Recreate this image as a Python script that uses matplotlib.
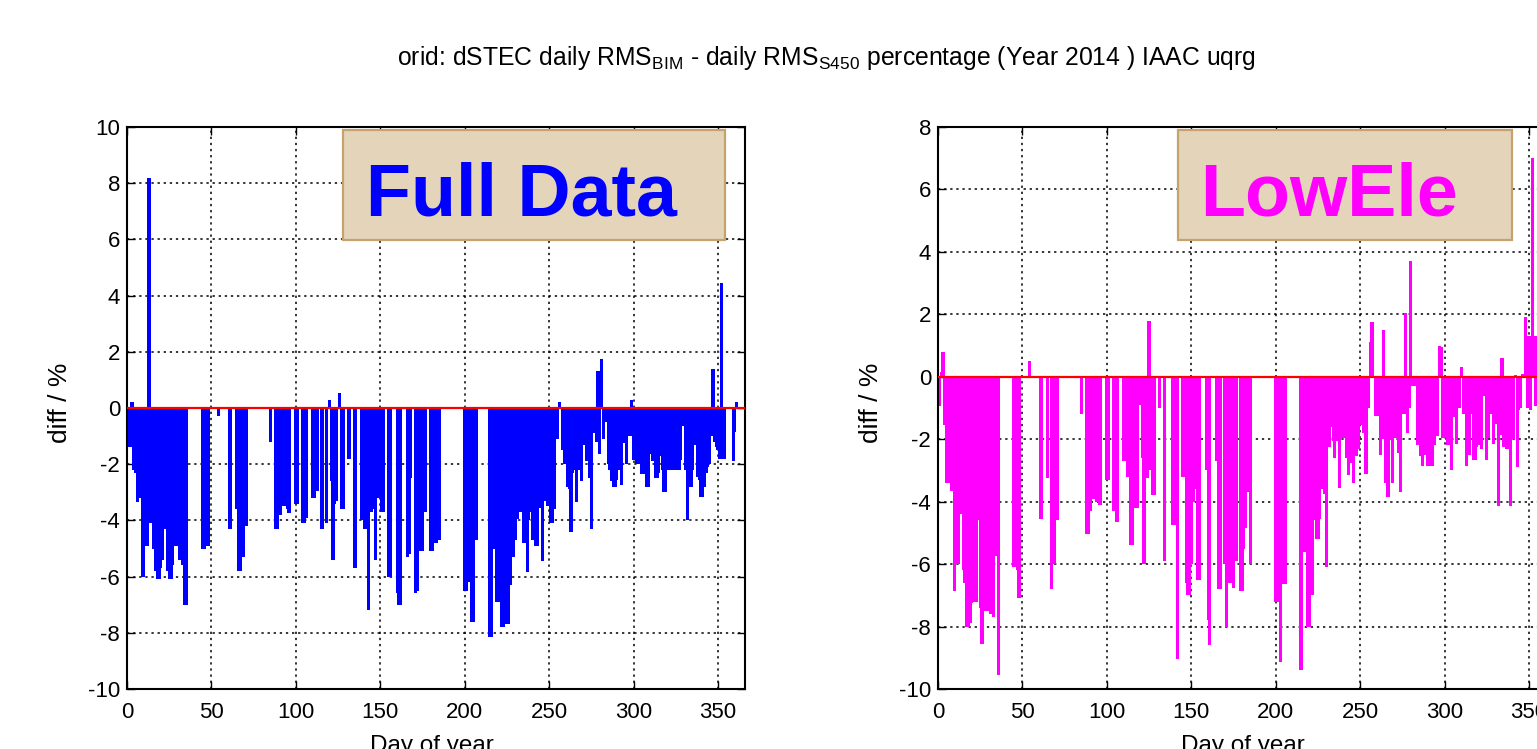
import numpy as np
import matplotlib
matplotlib.use('Agg')
import matplotlib.pyplot as plt
from matplotlib.patches import Rectangle

plt.rcParams['font.family'] = ['Liberation Sans', 'DejaVu Sans']
plt.rcParams['mathtext.fontset'] = 'custom'
plt.rcParams['mathtext.rm'] = 'Liberation Sans'
plt.rcParams['mathtext.it'] = 'Liberation Sans:italic'
plt.rcParams['axes.unicode_minus'] = False

# ---- Full Data: day of year / diff in % ----
full_days = [1, 2, 3, 4, 5, 6, 7, 8, 9, 10, 11, 12, 13, 14, 15, 16, 17, 18, 19, 20,
             21, 22, 23, 24, 25, 26, 27, 28, 29, 30, 31, 32, 33, 34, 35,
             45, 46, 47, 48, 54, 61, 65, 66, 67, 69, 71, 85,
             88, 89, 90, 91, 92, 93, 94, 95, 96, 100, 101, 104, 105, 106,
             110, 111, 112, 113, 115, 116, 118, 120, 121, 122, 123, 124, 126, 127, 128,
             131, 132, 135, 139, 140, 141, 142, 143, 144, 145, 146, 147, 148, 149, 150,
             151, 152, 155, 156, 160, 161, 162, 166, 167, 168, 171, 172, 174, 175, 176,
             177, 180, 181, 182, 183, 184, 185,
             200, 201, 202, 203, 204, 205, 206, 207,
             215, 216, 217, 218, 219, 220, 221, 222, 223, 224, 225, 226, 227, 228, 229,
             230, 231, 232, 233, 234, 235, 236, 237, 238, 239, 240, 241, 242, 243, 244,
             245, 246, 247, 248, 249, 250, 251, 252, 253, 254, 255, 256, 258, 259, 260,
             261, 262, 263, 264, 265, 266, 267, 268, 269, 270, 271, 272, 273, 274, 275,
             276, 277, 278, 279, 280, 281, 282, 283, 284, 285, 286, 287, 288, 289, 290,
             291, 292, 293, 294, 295, 296, 297, 298, 299, 300, 301, 302, 303, 304, 305,
             306, 307, 308, 309, 310, 311, 312, 313, 314, 315, 316, 317, 318, 319, 320,
             321, 322, 323, 324, 325, 326, 327, 328, 329, 330, 331, 332, 333, 334, 335,
             336, 337, 338, 339, 340, 341, 342, 343, 344, 345, 346, 347, 348, 349, 350,
             351, 352, 353, 354, 355, 359, 360, 361]
full_vals = [-1.4, -1.4, 0.2, -2.2, -2.3, -3.35, -2.6, -3.2, -6.0, -6.0, -4.9, -4.9, 8.2, -4.1, -4.1, -5.0, -5.8, -6.1, -6.1, -5.7,
             -5.4, -4.3, -4.3, -5.8, -6.1, -6.1, -5.6, -4.7, -4.9, -4.9, -5.4, -4.7, -5.6, -7.0, -7.0,
             -5.0, -5.0, -4.9, -4.9, -0.3, -4.3, -3.6, -5.8, -5.8, -5.3, -4.2, -1.2,
             -4.3, -4.3, -3.8, -3.8, -3.5, -3.5, -3.5, -3.6, -3.75, -3.4, -3.4, -4.1, -4.1, -3.9,
             -3.2, -3.2, -2.95, -2.95, -4.3, -4.3, -4.1, 0.3, -2.6, -5.4, -3.4, -3.3, 0.55, -3.6, -3.6,
             -1.8, -1.8, -5.7, -4.0, -4.0, -4.3, -4.3, -7.2, -3.7, -3.7, -3.6, -5.4, -3.2, -3.2, -3.2,
             -3.7, -3.7, -6.0, -6.0, -6.6, -7.0, -7.0, -5.3, -5.2, -2.5, -6.6, -6.5, -5.1, -5.1, -3.7,
             -3.7, -5.1, -5.1, -4.8, -4.8, -4.7, -4.7,
             -6.5, -6.5, -6.2, -6.2, -7.6, -7.6, -4.7, -4.7,
             -8.15, -8.15, -5.0, -5.0, -6.9, -6.9, -5.8, -7.8, -7.8, -7.7, -7.7, -7.7, -6.3, -5.3, -5.3,
             -4.7, -3.95, -3.7, -3.7, -3.7, -4.8, -4.8, -5.85, -4.0, -3.7, -4.7, -4.7, -4.9, -4.9, -3.55,
             -3.55, -5.45, -3.3, -3.0, -3.5, -3.5, -4.1, -4.1, -3.6, -1.1, -1.1, 0.2, -1.5, -2.0, -1.8,
             -2.8, -2.9, -4.4, -2.3, -2.2, -3.35, -2.2, -2.2, -2.6, -1.3, -1.3, -1.9, -1.9, -2.5, -4.3,
             -0.9, -0.9, -1.2, 1.3, -1.65, 1.75, -1.1, -0.2, -0.5, -2.0, -2.2, -2.6, -2.8, -2.8, -2.55,
             -2.2, -2.2, -2.75, -1.25, -1.25, -2.0, -1.0, -1.0, 0.3, -1.85, -1.85, -2.0, -2.0, -0.45, -2.35,
             -2.35, -1.9, -2.8, -2.8, -1.65, -1.9, -1.9, -2.5, -2.5, -2.3, -1.7, -2.2, -3.0, -3.0, -2.2,
             -2.2, -2.0, -2.2, -2.2, -2.0, -2.2, -2.2, -1.85, -0.65, -0.65, -2.2, -4.0, -2.8, -2.8, -2.2,
             -1.3, -1.3, -2.45, -2.55, -3.15, -3.15, -2.8, -2.3, -2.1, -2.0, -1.0, 1.4, -1.2, -1.4, -1.5,
             -1.8, 4.45, -1.8, -1.8, 0.05, -1.9, -0.85, 0.2]

# ---- LowEle: day of year / diff in % ----
low_days = [1, 2, 3, 4, 5, 6, 7, 8, 9, 10, 11, 12, 13, 14, 15, 16, 17, 18, 19, 20,
            21, 22, 23, 24, 25, 26, 27, 28, 29, 30, 31, 32, 33, 34, 35, 36,
            45, 46, 47, 48, 54, 61, 65, 67, 68, 69, 70, 71, 85,
            88, 89, 90, 91, 92, 93, 94, 95, 96, 100, 101, 104, 105, 106,
            110, 111, 112, 114, 115, 116, 117, 118, 120, 121, 122, 123, 124, 125, 126, 127, 128,
            131, 134, 139, 140, 141, 142, 145, 146, 147, 148, 149, 150, 151, 152, 153, 154, 155,
            159, 160, 161, 165, 166, 167, 170, 171, 172, 173, 175, 176, 177,
            179, 180, 181, 182, 183, 184, 185,
            200, 201, 202, 203, 204, 205, 206,
            215, 216, 217, 218, 219, 220, 221, 222, 223, 224, 225, 226, 227, 228, 229,
            230, 231, 232, 233, 234, 235, 236, 237, 238, 239, 240, 241, 242, 243, 244,
            245, 246, 247, 248, 249, 250, 251, 252, 253, 254, 255, 256, 257, 258, 259,
            260, 261, 262, 263, 264, 265, 266, 267, 268, 269, 270, 271, 272, 273, 274,
            275, 276, 277, 278, 279, 280, 281, 282, 283, 284, 285, 286, 287, 288, 289,
            290, 291, 292, 293, 294, 295, 296, 297, 298, 299, 300, 301, 302, 303, 304,
            305, 306, 307, 308, 309, 310, 311, 312, 313, 314, 315, 316, 317, 318, 319,
            320, 321, 322, 323, 324, 325, 326, 327, 328, 329, 330, 331, 332, 333, 334,
            335, 336, 337, 338, 339, 340, 341, 342, 343, 344, 345, 346, 347, 348, 349,
            350, 351, 352, 353, 354, 355]
low_vals = [-0.95, 0.15, 0.8, -1.55, -3.4, -3.4, -2.1, -3.65, -3.65, -6.85, -6.0, -6.0, -4.4, -4.4, -6.2, -6.6, -8.0, -8.0, -7.9, -7.25,
            -7.2, -7.2, -7.2, -4.6, -7.4, -8.55, -7.5, -5.85, -7.5, -6.75, -7.6, -5.7, -7.7, -5.75, -5.75, -9.55,
            -6.1, -6.1, -6.2, -7.1, 0.5, -4.55, -3.25, -6.8, -6.0, -6.0, -4.6, -4.6, -1.2,
            -5.05, -5.05, -4.3, -3.6, -3.9, -3.9, -4.0, -4.0, -4.1, -3.3, -3.3, -4.3, -4.3, -4.65,
            -2.7, -2.7, -3.2, -5.4, -5.4, -4.2, -4.2, -4.2, -0.9, -2.6, -6.0, -3.25, -3.25, 1.8, -3.0, -3.8, -3.8,
            -1.0, -5.9, -4.75, -4.75, -4.75, -9.05, -3.2, -3.2, -6.6, -7.0, -7.0, -6.0, -4.0, -3.6, -3.6, -6.5, -6.5,
            -3.0, -7.8, -8.6, -2.7, -6.8, -6.8, -6.0, -8.0, -6.6, -6.6, -6.75, -5.9, -5.9,
            -6.85, -6.85, -5.5, -4.85, -3.7, -3.7, -6.0,
            -7.2, -7.2, -6.65, -9.15, -6.65, -6.65, -6.65,
            -9.4, -5.6, -5.6, -4.0, -8.0, -8.0, -7.0, -7.0, -4.6, -5.2, -5.2, -4.55, -3.6, -3.6, -3.75,
            -6.1, -2.25, -2.25, -1.6, -2.05, -2.6, -2.05, -2.05, -3.55, -1.95, -1.95, -0.55, -2.6, -3.15, -2.75,
            -2.75, -3.4, -2.55, -2.55, -2.3, -1.55, -1.55, -1.8, -3.1, -3.1, -1.0, 1.1, 1.75, -0.05, -1.25,
            -1.25, -0.6, -2.5, -2.0, 1.5, -3.4, -3.85, -3.85, -2.0, -3.4, -1.55, -1.95, -0.85, -2.45, -3.7,
            -0.85, -1.2, 2.05, -1.8, -1.0, 3.7, -0.3, -0.3, -0.25, -2.2, -2.2, -2.55, -2.85, -2.15, -2.5,
            -2.85, -2.1, -2.85, -2.85, -2.2, -0.75, -1.9, 1.0, 0.95, -1.95, -1.95, -1.9, -2.2, -2.2, -3.0,
            -1.3, -1.3, -2.15, -1.0, -1.0, 0.3, -1.2, -1.2, -2.85, -2.5, -2.5, -1.2, -2.65, -2.65, -2.25,
            -2.2, -2.2, -2.3, -0.6, -0.6, -2.65, -1.95, -1.2, -1.2, -2.15, -1.5, -1.5, -4.15, -1.85, 0.6,
            -2.25, -2.25, -2.3, -2.3, -4.15, -2.0, -2.0, 0.05, -2.9, -1.05, -1.0, 0.1, 0.1, 1.9, -1.0,
            1.3, -1.05, 7.0, 1.3, -0.95, 1.3]

title = ('orid: dSTEC daily RMS$_{\\mathrm{BIM}}$ - daily RMS$_{\\mathrm{S450}}$ '
         'percentage (Year 2014 ) IAAC uqrg')

fig = plt.figure(figsize=(15.37, 7.49), dpi=100)
W, H = 1537, 749
ax_w = 618 / W
ax_h = 562 / H
ax_b = 1 - 689 / H
ax1 = fig.add_axes([127 / W, ax_b, ax_w, ax_h])
ax2 = fig.add_axes([938 / W, ax_b, ax_w, ax_h])


def draw_panel(ax, days, vals, color, ylim, label, text_x, box_x0, box_x1):
    ax.set_axisbelow(True)
    ax.bar(days, vals, width=1.9, color=color, linewidth=0, zorder=2)
    ax.axhline(0, color='red', lw=1.6, zorder=3)
    ax.set_xlim(0, 366)
    ax.set_ylim(*ylim)
    ax.set_xticks(np.arange(0, 351, 50))
    ax.set_yticks(np.arange(ylim[0], ylim[1] + 1, 2))
    ax.grid(True, color='black', linestyle=(0, (1.5, 2.5)), linewidth=1.1)
    ax.tick_params(direction='in', length=6, width=1, top=True, right=True,
                   labelsize=16)
    ax.tick_params(axis='x', pad=9)
    ax.tick_params(axis='y', pad=5)
    for s in ax.spines.values():
        s.set_linewidth(1.5)
    ax.set_ylabel('diff / %', fontsize=19)
    ax.yaxis.set_label_coords(-0.089, 0.509)
    ax.set_xlabel('Day of year', fontsize=17.5)
    ax.xaxis.set_label_coords(0.494, -0.082)
    ax.add_patch(Rectangle((box_x0, 0.799), box_x1 - box_x0, 0.1957,
                           transform=ax.transAxes, facecolor='#E3D4BA',
                           edgecolor='#C6A26C', lw=1.6, zorder=5, clip_on=False))
    ax.text(text_x, 0.8434, label, transform=ax.transAxes, ha='center',
            va='baseline', fontsize=53, fontweight='bold', color=color, zorder=6)


draw_panel(ax1, full_days, full_vals, '#0000FF', (-10, 10), 'Full Data', 0.6375, 0.3495, 0.9676)
draw_panel(ax2, low_days, low_vals, '#FF00FF', (-10, 8), 'LowEle', 0.632, 0.388, 0.929)

fig.text(0.538, 1 - 58 / H, title, ha='center', va='center', fontsize=17.8)

fig.savefig('out.png', dpi=100)
